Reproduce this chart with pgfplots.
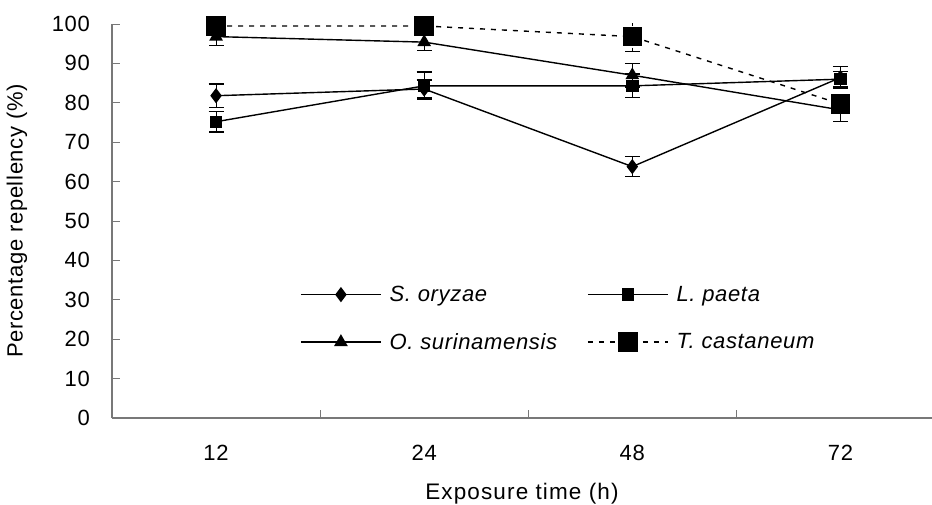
\documentclass[border=0pt]{standalone}
\usepackage{fontspec}
\setmainfont{Liberation Sans}[LetterSpace=3]
\usepackage{pgfplots}
\pgfplotsset{compat=1.18}
\definecolor{axisgray}{RGB}{120,120,120}

\begin{document}
\begin{tikzpicture}[font=\fontsize{22}{26}\selectfont]
\begin{axis}[
    name=ax,
    width=820pt, height=394pt, scale only axis,
    xmin=0.5, xmax=4.44,
    ymin=0, ymax=100,
    axis lines*=left,
    axis line style={axisgray, line width=1.3pt},
    x axis line style={line width=2pt},
    xtick={1,2,3,4},
    xticklabels={12,24,48,72},
    minor xtick={1.5,2.5,3.5},
    ytick={0,10,...,100},
    major tick length=8pt,
    minor tick length=8pt,
    tick align=inside,
    x tick style={draw=none},
    minor x tick style={draw=axisgray, line width=0.8pt},
    y tick style={axisgray, line width=0.8pt},
    xticklabel style={anchor=center, inner sep=0pt, yshift=-35pt},
    yticklabel style={anchor=east, inner sep=0pt, xshift=-22pt},
    /pgf/number format/assume math mode=true,
    xlabel={Exposure time (h)},
    ylabel={Percentage repellency (\%)},
    every axis x label/.style={at={(axis description cs:0.5,0)}, anchor=center, yshift=-76pt,
        font=\fontsize{22.5}{26}\selectfont\addfontfeature{LetterSpace=5}},
    every axis y label/.style={at={(axis description cs:0,0.5)}, anchor=center, xshift=-95pt, rotate=90},
    every axis plot/.append style={black, line width=1.4pt},
    error bars/error mark options={black, rotate=90, line width=1.3pt, mark size=7.5pt},
    legend columns=2,
    legend cell align=left,
    legend style={draw=none, fill=none, at={(0.2293,0.335)}, anchor=north west,
        row sep=30pt, inner sep=0pt,
        /tikz/every odd column/.append style={column sep=8pt},
        /tikz/every even column/.append style={column sep=30pt},
        nodes={inner sep=0pt, font=\fontsize{22}{26}\selectfont\itshape}},
    legend image code/.code={\draw[mark repeat=2,mark phase=2,#1]
        plot coordinates {(0pt,0pt) (40pt,0pt) (80pt,0pt)};},
]
% S. oryzae
\addplot[mark=diamond*, mark size=6.5pt, mark options={solid, fill=black},
    error bars/.cd, y dir=both, y explicit]
    coordinates {(1,81.8) +- (0,3.0) (2,83.5) +- (0,2.3) (3,63.8) +- (0,2.5) (4,86.4) +- (0,2.8)};
\addlegendentry{S. oryzae}
% L. paeta
\addplot[mark=square*, mark size=5.5pt, mark options={solid, fill=black},
    error bars/.cd, y dir=both, y explicit]
    coordinates {(1,75.2) +- (0,2.6) (2,84.3) +- (0,3.5) (3,84.3) +- (0,3.0) (4,86.0) +- (0,2.0)};
\addlegendentry{L. paeta}
% O. surinamensis
\addplot[mark=triangle*, mark size=6.5pt, mark options={solid, fill=black},
    error bars/.cd, y dir=both, y explicit]
    coordinates {(1,96.8) +- (0,2.3) (2,95.4) +- (0,2.2) (3,87.0) +- (0,3.0) (4,78.2) +- (0,3.0)};
\addlegendentry{O. surinamensis}
% T. castaneum
\addplot[dash pattern=on 5pt off 6pt, mark=square*, mark size=9pt, mark options={solid, fill=black},
    error bars/.cd, y dir=both, y explicit]
    coordinates {(1,99.5) +- (0,0) (2,99.5) +- (0,0) (3,96.8) +- (0,3.8) (4,79.7) +- (0,0)};
\addlegendentry{T. castaneum}
\end{axis}
\pgfresetboundingbox
\path ([xshift=-112pt,yshift=-86pt]ax.south west) rectangle ([yshift=24pt]ax.north east);
\end{tikzpicture}
\end{document}
